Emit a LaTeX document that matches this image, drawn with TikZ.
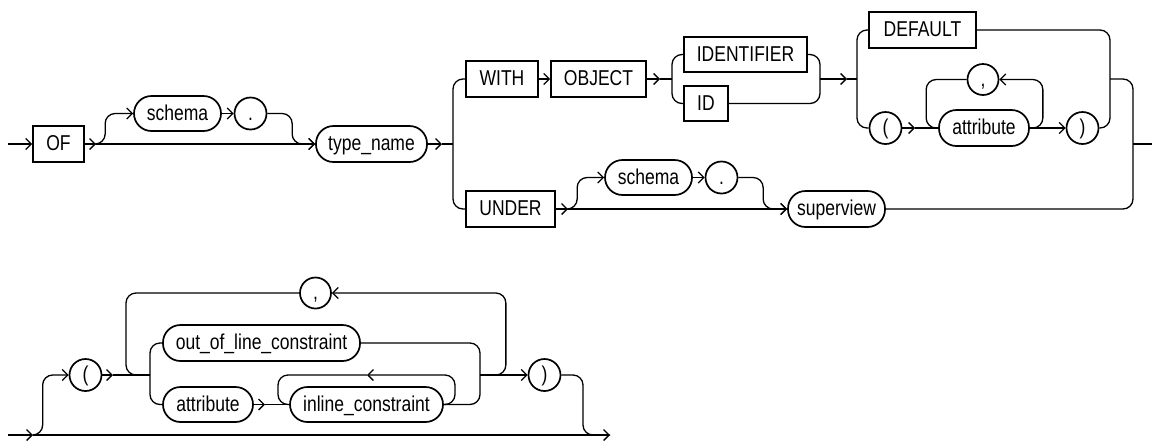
\documentclass[tikz,border=0pt]{standalone}
\usepackage{fontspec}
\setmainfont{Liberation Sans}[FakeStretch=0.815]
\usetikzlibrary{arrows.meta}
\tikzset{
  kw/.style={draw, line width=1.7pt, rectangle, minimum height=36pt, inner sep=0pt,
    text height=13.5pt, text depth=0pt, font=\fontsize{21.5pt}{22pt}\selectfont},
  nt/.style={kw, rounded corners=17.5pt},
  sym/.style={draw, line width=1.7pt, circle, minimum size=32pt, inner sep=0pt,
    text height=13.5pt, text depth=0pt, font=\fontsize{21.5pt}{22pt}\selectfont},
  conn/.style={line width=1.3pt},
  arr/.style={conn, -{Straight Barb[length=5.5pt,width=11pt]}},
  rc/.style={rounded corners=10pt},
}
\begin{document}
\begin{tikzpicture}[x=1pt,y=-1pt]
\useasboundingbox (0,0) rectangle (1152,440);
% ---------- top row nodes
\node[kw, minimum width=51pt] (OF) at (58.5,144) {OF};
\node[nt, minimum width=87pt, minimum height=35pt] (schemaA) at (177.5,113.5) {schema};
\node[sym] (dotA) at (250.5,113.5) {.};
\node[nt, minimum width=111pt] (typename) at (371.5,144) {type\_name};
\node[kw, minimum width=72pt] (with) at (502,79) {WITH};
\node[kw, minimum width=95pt] (object) at (598.5,79) {OBJECT};
\node[kw, minimum width=123pt, minimum height=35pt] (identifier) at (745.5,54.5) {IDENTIFIER};
\node[kw, minimum width=44pt, minimum height=35pt] (id) at (706,103.5) {ID};
\node[kw, minimum width=107pt] (default) at (922.5,30) {DEFAULT};
\node[sym] (lpA) at (885.5,128) {(};
\node[sym, minimum size=31pt] (commaA) at (983,79.5) {,};
\node[nt, minimum width=90pt] (attrA) at (984,128) {attribute};
\node[sym] (rpA) at (1082.5,128) {)};
\node[kw, minimum width=89pt] (under) at (510.5,209) {UNDER};
\node[nt, minimum width=87pt, minimum height=35pt] (schemaB) at (648.5,177.5) {schema};
\node[sym] (dotB) at (721.5,177.5) {.};
\node[nt, minimum width=97pt] (superview) at (836.5,209) {superview};
% ---------- top row coordinates
\coordinate (s1) at (8,144);
\coordinate (j1) at (96,144);
\coordinate (j2) at (442,144);
\coordinate (sp1) at (453,144);
\coordinate (j3) at (660,79);
\coordinate (sp2) at (672,79);
\coordinate (mg2) at (820,79);
\coordinate (j4) at (847,79);
\coordinate (sp3) at (857,79);
\coordinate (j5) at (915,128);
\coordinate (mg3) at (1110,79);
\coordinate (mg4) at (1133,144);
\coordinate (e1) at (1152,144);
\coordinate (j7) at (568,209);
% ---------- top row connectors
\draw[arr] (s1) -- (OF.west);
\draw[arr] (OF.east) -- (j1);
\draw[arr] (j1) -- (typename.west);
\draw[arr, rc] (j1) -| ([xshift=-28pt]schemaA.west) -- (schemaA.west);
\draw[arr] (schemaA) -- (dotA);
\draw[arr, rc] (dotA.east) -| ([xshift=-23pt]typename.west) -- (typename.west);
\draw[arr] (typename.east) -- (j2);
\draw[conn] (j2) -- (sp1);
\draw[conn, rc] (with.west) -| (sp1) |- (under.west);
\draw[arr] (with) -- (object);
\draw[arr] (object.east) -- (j3);
\draw[conn] (j3) -- (sp2);
\draw[conn, rc] (identifier.west) -| (sp2) |- (id.west);
\draw[conn, rc] (identifier.east) -| (mg2) |- (id.east);
\draw[arr] (mg2) -- (j4);
\draw[conn] (j4) -- (sp3);
\draw[conn, rc] (default.west) -| (sp3) |- (lpA.west);
\draw[arr] (lpA.east) -- (j5);
\draw[conn] (j5) -- (attrA.west);
\draw[arr, rc] (attrA.east) -| ([xshift=43.5pt]commaA.east) -- (commaA.east);
\draw[conn, rc] (commaA.west) -| ([xshift=-12pt]attrA.west) -- (attrA.west);
\draw[arr] (attrA) -- (rpA);
\draw[conn, rc] (default.east) -| (mg3) |- (rpA.east);
\draw[conn, rc] (mg3) -| (mg4) |- (superview.east);
\draw[conn] (mg4) -- (e1);
\draw[arr] (under.east) -- (j7);
\draw[arr] (j7) -- (superview.west);
\draw[arr, rc] (j7) -| ([xshift=-27pt]schemaB.west) -- (schemaB.west);
\draw[arr] (schemaB) -- (dotB);
\draw[arr, rc] (dotB.east) -| ([xshift=-24pt]superview.west) -- (superview.west);
% ---------- bottom row nodes
\node[sym] (lpB) at (85.5,375) {(};
\node[sym, minimum size=31pt] (commaB) at (315.5,293) {,};
\node[nt, minimum width=197pt] (ool) at (261.5,343) {out\_of\_line\_constraint};
\node[nt, minimum width=90pt, minimum height=35pt] (attrB) at (208,404.5) {attribute};
\node[nt, minimum width=153pt, minimum height=35pt] (inline) at (366.5,404.5) {inline\_constraint};
\node[sym] (rpB) at (544.5,375) {)};
% ---------- bottom row coordinates
\coordinate (s2) at (8,435);
\coordinate (j8) at (33,435);
\coordinate (e2) at (610,435);
\coordinate (j9) at (113,375);
\coordinate (sp4) at (150,375);
\coordinate (mg5) at (480,375);
\coordinate (j10) at (367,375);
\coordinate (ilr) at (455,375);
\coordinate (ill) at (278,375);
\coordinate (j11) at (265,404.5);
% ---------- bottom row connectors
\draw[arr] (s2) -- (j8);
\draw[arr] (j8) -- (e2);
\draw[arr, rc] (j8) -| ([xshift=-26pt]lpB.west) -- (lpB.west);
\draw[arr] (lpB.east) -- (j9);
\draw[conn] (j9) -- (sp4);
\draw[conn, rc] (ool.west) -| (sp4) |- (attrB.west);
\draw[conn, rc] (commaB.west) -| ([xshift=13pt]j9) -- (sp4);
\draw[arr, rc] (mg5) -| ([xshift=174pt]commaB.east) -- (commaB.east);
\draw[conn, rc] (ool.east) -| (mg5) |- (inline.east);
\draw[arr] (mg5) -- (rpB.west);
\draw[arr] (attrB.east) -- (j11);
\draw[conn] (j11) -- (inline.west);
\draw[arr, rc] (inline.east) -| (ilr) -- (j10);
\draw[conn, rc] (j10) -- (ill) |- (inline.west);
\draw[conn, rc] (rpB.east) -| ([xshift=-27pt]e2) -- (e2);
\end{tikzpicture}
\end{document}
